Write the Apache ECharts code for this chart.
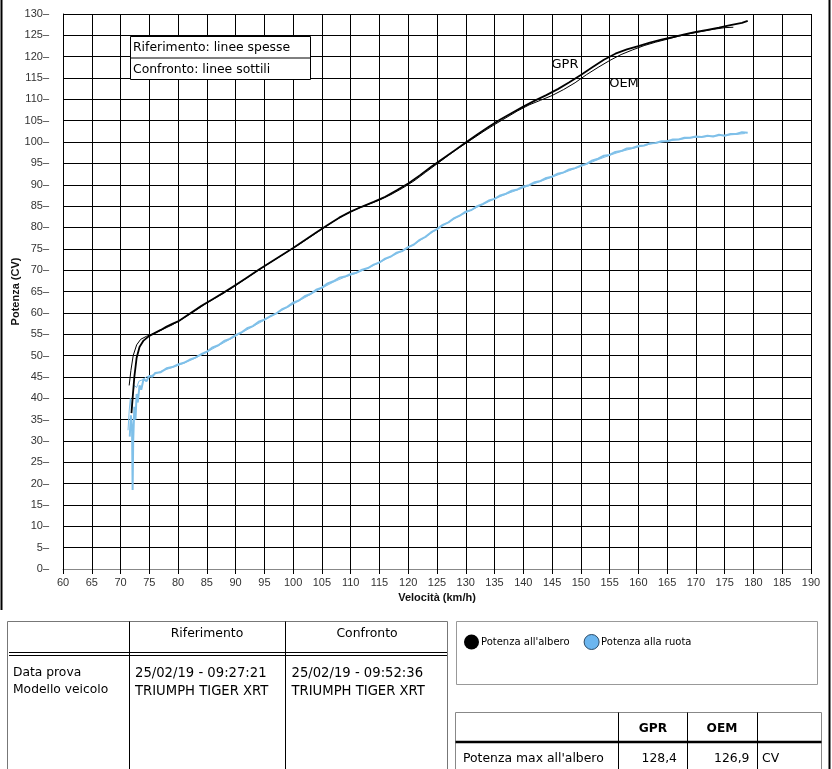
<!DOCTYPE html>
<html>
<head>
<meta charset="utf-8">
<script src="https://cdn.jsdelivr.net/npm/echarts@6/dist/echarts.min.js"></script>
<style>
html,body{margin:0;padding:0;background:#fff;}
#chart{width:832px;height:769px;}
</style>
</head>
<body>
<div id="chart"></div>
<script>
// ---- Data ----
const xTicks = [60,190,5];   // min, max, interval of speed axis
const yTicks = [0,130,5];    // min, max, interval of power axis

// Reference (GPR) shaft power - thick black
const gprShaftSpeed = [71.9,72.1,72.4,72.8,73.3,74,75,76,77,78,79,80,82,84,86,88,90,92,94,96,98,100,102,104,106,108,110,112,114,116,118,120,122,124,126,128,130,132,134,136,138,140,142,144,146,148,150,152,154,156,158,160,162,164,166,168,170,172,174,176,178,179];
const gprShaftPower = [36.5,40,45,49.5,52,53.5,54.6,55.3,56,56.8,57.4,58,59.8,61.6,63.2,64.8,66.5,68.3,70.1,71.8,73.5,75.2,77,78.8,80.6,82.3,83.7,84.9,86,87.2,88.7,90.3,92.2,94.2,96.1,98,99.9,101.8,103.6,105.3,106.8,108.3,109.7,111,112.4,114,115.7,117.5,119.3,120.7,121.7,122.5,123.3,124,124.6,125.2,125.8,126.3,126.8,127.4,127.9,128.4];

// Comparison (OEM) shaft power - thin black
const oemShaftSpeed = [71.5,71.8,72.2,72.8,73.5,74.5,75.5,77,79,81,83,85,87,89,91,93,95,97,99,101,103,105,107,109,111,113,115,117,119,121,123,125,127,129,131,133,135,137,139,141,143,145,147,149,151,153,155,157,159,161,163,165,167,169,171,173,175,176.5];
const oemShaftPower = [43,46.5,50,52.5,53.8,54.5,55,55.9,57.2,58.8,60.5,62.3,63.9,65.5,67.3,69.1,70.9,72.6,74.3,76,77.8,79.6,81.4,83,84.3,85.4,86.4,87.7,89.2,90.9,92.9,94.9,96.9,98.8,100.6,102.4,104.1,105.7,107.3,108.7,109.8,110.9,112.3,113.9,115.8,117.5,119.1,120.5,121.6,122.6,123.4,124.1,124.8,125.4,125.9,126.4,126.8,126.9];

// Reference (GPR) wheel power - thick blue
const gprWheelSpeed = [71.6,71.8,72.0,72.1,72.2,72.4,72.6,72.8,73.0,73.3,73.6,74,74.5,75,75.5,76,77,78,79,80,81,82,83,84,85,86,87,88,89,90,91,92,93,94,95,96,97,98,99,100,101,102,103,104,105,106,107,108,109,110,111,112,113,114,115,116,117,118,119,120,121,122,123,124,125,126,127,128,129,130,131,132,133,134,135,136,137,138,139,140,141,142,143,144,145,146,147,148,149,150,151,152,153,154,155,156,157,158,159,160,161,162,163,164,165,166,167,168,169,170,171,172,173,174,175,176,177,178,179];
const gprWheelPower = [31,36,33,18.5,30,38,35,41,39,43,42,44.5,44,45.2,45,45.9,46.1,47,47.3,47.9,48.3,49,49.5,50.3,50.9,51.9,52.4,53.4,53.9,54.8,55.4,56.4,56.9,57.9,58.4,59.2,59.8,60.8,61.4,62.4,62.9,63.9,64.4,65.4,65.9,66.9,67.4,68.2,68.5,69.1,69.4,70.1,70.5,71.3,71.8,72.7,73.2,74.1,74.5,75.4,76,77.1,77.8,78.9,79.6,80.6,81.2,82.2,82.8,83.7,84.1,85,85.5,86.3,86.7,87.5,87.9,88.6,88.9,89.6,89.9,90.6,90.9,91.6,91.9,92.6,92.9,93.6,93.9,94.5,94.9,95.7,96.1,96.8,97,97.7,97.9,98.5,98.6,99.1,99.2,99.7,99.8,100.2,100.2,100.6,100.6,101,101,101.3,101.2,101.5,101.3,101.7,101.5,101.9,101.9,102.3,102.2];

// Comparison (OEM) wheel power - thin blue
const oemWheelSpeed = [71.3,71.5,71.7,71.9,72.1,72.4,72.8,73.2,73.8,74.5,75.5,77,79,81,83,85,87,89,91,93,95,97,99,101,103,105,107,109,111,113,115,117,119,121,123,125,127,129,131,133,135,137,139,141,143,145,147,149,151,153,155,157,159,161,163,165,167,169,171,173,175,177,178.5];
const oemWheelPower = [32.5,37,40,37,41,43,42.5,44,44.3,45,45.4,46.3,47.2,48.2,49.4,50.8,52.3,53.8,55.3,56.8,58.3,59.8,61.3,62.8,64.3,65.8,67.2,68.4,69.3,70.5,71.8,73.2,74.5,76,77.8,79.6,81.2,82.8,84.1,85.4,86.7,87.8,88.8,89.8,90.8,91.8,92.8,93.8,94.8,95.9,96.9,97.8,98.5,99.2,99.8,100.2,100.6,101,101.2,101.4,101.6,101.8,102];

const seriesNames = ["Potenza all'albero", "Potenza alla ruota"];
const tableHeaders1 = ['Riferimento','Confronto'];
const rowLabels1 = ['Data prova','Modello veicolo'];
const refInfo = ['25/02/19 - 09:27:21','TRIUMPH TIGER XRT'];
const cmpInfo = ['25/02/19 - 09:52:36','TRIUMPH TIGER XRT'];
const tableHeaders2 = ['GPR','OEM'];
const maxLabel = "Potenza max all'albero";
const maxValues = ['128,4','126,9'];
const maxUnit = 'CV';

// ---- Build ----
const zip = (a,b) => a.map((v,i)=>[v,b[i]]);
const BLUE = '#7fc0e9';
const FONT = 'DejaVu Sans';

function txt(x,y,text,size,opts){
  opts = opts||{};
  return {type:'text', silent:true, z:200, style:{
    x:x, y:y, text:text, fill:opts.fill||'#000',
    font:(opts.bold?'bold ':'')+size+'px "'+(opts.family||FONT)+'"',
    align:opts.align||'left', verticalAlign:'middle',
    textAlign:opts.align||'left', textVerticalAlign:'middle'
  }};
}
function line(x1,y1,x2,y2,color,w){
  return {type:'line', silent:true, z:150, shape:{x1:x1,y1:y1,x2:x2,y2:y2}, style:{stroke:color,lineWidth:w||1}};
}
function rect(x,y,w,h,color,lw){
  return {type:'rect', silent:true, z:100, shape:{x:x,y:y,width:w,height:h}, style:{fill:'#fff',stroke:color,lineWidth:lw||1}};
}

const graphics = [
  // frame
  line(1.5,0,1.5,610,'#000',2),
  line(829.5,0,829.5,769,'#000',2),
  // note box
  rect(130.5,36.5,180,43,'#000',1),
  line(130.5,58,310.5,58,'#000',1),
  txt(133,48,'Riferimento: linee spesse',12.4),
  txt(133,69.5,'Confronto: linee sottili',12.4),
  // curve labels
  txt(565,65,'GPR',13,{align:'center'}),
  txt(624,84,'OEM',13,{align:'center'}),
  // table 1
  rect(7.5,621.5,440,160,'#777',1),
  line(129.5,621.5,129.5,769,'#000',1),
  line(285.5,621.5,285.5,769,'#000',1),
  line(9,652.5,447,652.5,'#000',1),
  line(9,655.5,447,655.5,'#000',1),
  txt(207,634,tableHeaders1[0],12.4,{align:'center'}),
  txt(367,634,tableHeaders1[1],12.4,{align:'center'}),
  txt(13,673,rowLabels1[0],12.3),
  txt(13,690,rowLabels1[1],12.3),
  txt(135,674,refInfo[0],13.2),
  txt(135,692,refInfo[1],13.2),
  txt(291.5,674,cmpInfo[0],13.2),
  txt(291.5,692,cmpInfo[1],13.2),
  // legend box
  {type:'rect', silent:true, z:-10, shape:{x:456.5,y:621.5,width:361,height:63}, style:{fill:'#fff',stroke:'#999',lineWidth:1}},
  // table 2
  rect(455.5,712.5,366,80,'#888',1),
  line(618.5,712.5,618.5,769,'#000',1),
  line(687.5,712.5,687.5,769,'#000',1),
  line(757.5,712.5,757.5,769,'#000',1),
  line(455.5,742,821.5,742,'#000',2.5),
  txt(653,729,tableHeaders2[0],12.2,{align:'center',bold:true}),
  txt(722,729,tableHeaders2[1],12.2,{align:'center',bold:true}),
  txt(463,758.5,maxLabel,12.4),
  txt(677,758.5,maxValues[0],12.4,{align:'right'}),
  txt(749.5,758.5,maxValues[1],12.4,{align:'right'}),
  txt(762,758.5,maxUnit,12.4)
];

const chart = echarts.init(document.getElementById('chart'), null, {renderer:'canvas'});
chart.setOption({
  animation:false,
  backgroundColor:'#fff',
  grid:{left:63, top:14, right:21, bottom:200, containLabel:false, outerBoundsMode:'none'},
  legend:{
    left:464, top:634, padding:0, icon:'circle', itemWidth:15, itemHeight:15, itemGap:14,
    textStyle:{fontFamily:FONT, fontSize:10, color:'#000', padding:[0,0,0,-3]},
    data:[
      {name:seriesNames[0], itemStyle:{color:'#000'}},
      {name:seriesNames[1], itemStyle:{color:'#6cb6ef', borderColor:'#2a4a66', borderWidth:1}}
    ]
  },
  xAxis:{
    type:'value', min:xTicks[0], max:xTicks[1], interval:xTicks[2],
    name:'Velocità (km/h)', nameLocation:'middle', nameGap:23,
    nameTextStyle:{fontFamily:'Liberation Sans', fontSize:11, fontWeight:'bold', color:'#111'},
    axisLine:{show:true, lineStyle:{color:'#888', width:1}},
    axisTick:{show:true, length:5, lineStyle:{color:'#000'}},
    axisLabel:{fontFamily:'Liberation Sans', fontSize:11, color:'#333', margin:8},
    splitLine:{show:true, lineStyle:{color:'#000', width:1}}
  },
  yAxis:{
    type:'value', min:yTicks[0], max:yTicks[1], interval:yTicks[2],
    name:'Potenza (CV)', nameLocation:'middle', nameGap:42, nameRotate:90, nameMoveOverlap:false,
    nameTextStyle:{fontFamily:'Liberation Sans', fontSize:11, fontWeight:'bold', color:'#111'},
    axisLine:{show:true, lineStyle:{color:'#000', width:1}},
    axisTick:{show:false},
    axisLabel:{fontFamily:'Liberation Sans', fontSize:11, color:'#333', margin:14, formatter:'{value}–'},
    splitLine:{show:true, lineStyle:{color:'#000', width:1}}
  },
  series:[
    {name:seriesNames[1], type:'line', showSymbol:false, data:zip(oemWheelSpeed,oemWheelPower), lineStyle:{color:BLUE, width:1}, itemStyle:{color:BLUE}},
    {name:seriesNames[1], type:'line', showSymbol:false, data:zip(gprWheelSpeed,gprWheelPower), lineStyle:{color:BLUE, width:2}, itemStyle:{color:BLUE}},
    {name:seriesNames[0], type:'line', showSymbol:false, data:zip(oemShaftSpeed,oemShaftPower), lineStyle:{color:'#000', width:1}, itemStyle:{color:'#000'}},
    {name:seriesNames[0], type:'line', showSymbol:false, data:zip(gprShaftSpeed,gprShaftPower), lineStyle:{color:'#000', width:1.8}, itemStyle:{color:'#000'}}
  ],
  graphic:graphics
});
</script>
</body>
</html>
